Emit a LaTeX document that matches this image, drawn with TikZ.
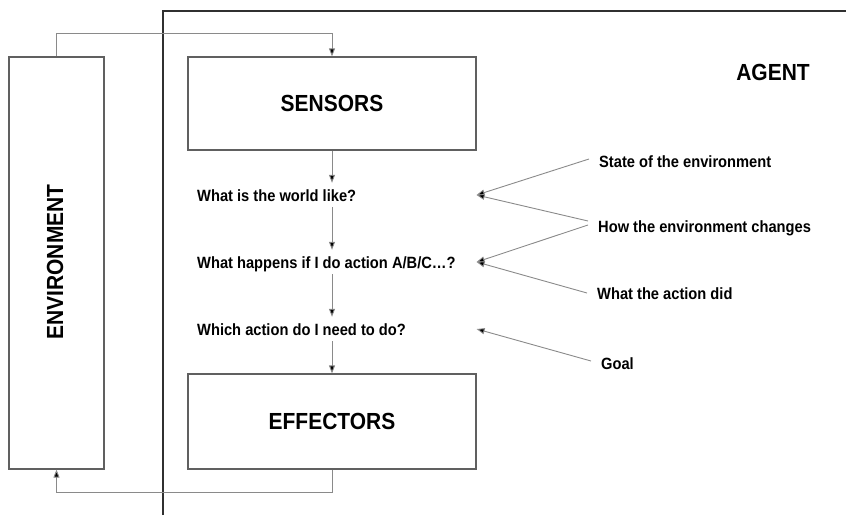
\documentclass[tikz,border=0pt]{standalone}
\usepackage{fontspec}
\setmainfont{Liberation Sans}
\newfontfamily\diagfont[FakeStretch=0.9]{Liberation Sans}
\usepackage{xcolor}
\usetikzlibrary{positioning, arrows.meta, calc}
\definecolor{boxgray}{HTML}{606060}
\definecolor{linegray}{HTML}{8A8A8A}
\definecolor{framegray}{HTML}{303030}

\tikzset{
  bigtext/.style={font=\diagfont\fontsize{23.3}{26}\selectfont\bfseries},
  block/.style={draw=boxgray, line width=1.2pt, inner sep=0pt, bigtext},
  question/.style={anchor=base west, inner xsep=0pt, inner ysep=6pt,
                   text height=12pt, text depth=0pt,
                   font=\diagfont\fontsize{16.3}{18}\selectfont\bfseries},
  source/.style={anchor=base west, inner xsep=10pt, inner ysep=0pt,
                 text height=12pt, text depth=0pt,
                 font=\diagfont\fontsize{16.3}{18}\selectfont\bfseries},
  flow/.style={draw=linegray, line width=0.9pt, -{Triangle[length=8pt, width=6pt, fill=black]}},
}

\begin{document}
\begin{tikzpicture}[x=1pt, y=-1pt]
    \useasboundingbox (0,0) rectangle (846,515);

    % agent frame
    \draw[framegray, line width=1.2pt] (163,515) -- (163,11) -- (846,11);
    \node[bigtext] (agent) at (773,72) {AGENT};

    % environment and the two agent blocks
    \node[block, minimum width=95pt, minimum height=412pt] (env) at (56.5,263) {};
    \node[rotate=90, bigtext] (envtext) at (55,262) {ENVIRONMENT};
    \node[block, minimum width=288pt, minimum height=93pt] (sensors) at (332,103.5) {SENSORS};
    \node[block, minimum width=288pt, minimum height=95pt] (effectors) at (332,421.5) {EFFECTORS};

    % questions inside the agent
    \node[question] (world) at (197,201) {What is the world like?};
    \node[question] (whatif) at (197,268) {What happens if I do action A/B/C\ldots?};
    \node[question] (choose) at (197,335) {Which action do I need to do?};

    % knowledge sources
    \node[source] (state) at (589,167) {State of the environment};
    \node[source] (changes) at (588,232) {How the environment changes};
    \node[source] (did) at (587,299) {What the action did};
    \node[source] (goal) at (591,369) {Goal};

    % percept / action loop
    \draw[flow] (env.north) -- ++(0,-23) -| (sensors.north);
    \draw[flow] (effectors.south) -- ++(0,23) -| (env.south);

    % reasoning chain
    \draw[flow] (sensors.south) -- (sensors.south |- world.north);
    \draw[flow] (sensors.south |- world.south) -- (sensors.south |- whatif.north);
    \draw[flow] (sensors.south |- whatif.south) -- (sensors.south |- choose.north);
    \draw[flow] (sensors.south |- choose.south) -- (effectors.north);

    % inputs from the right
    \draw[flow] ([yshift=2pt]state.west) -- (sensors.east |- world.west);
    \draw[flow] ([yshift=5pt]changes.west) -- (sensors.east |- world.west);
    \draw[flow] ([yshift=1pt]changes.west) -- (sensors.east |- whatif.west);
    \draw[flow] (did.west) -- (sensors.east |- whatif.west);
    \draw[flow] ([yshift=2pt]goal.west) -- (sensors.east |- choose.west);
\end{tikzpicture}
\end{document}
